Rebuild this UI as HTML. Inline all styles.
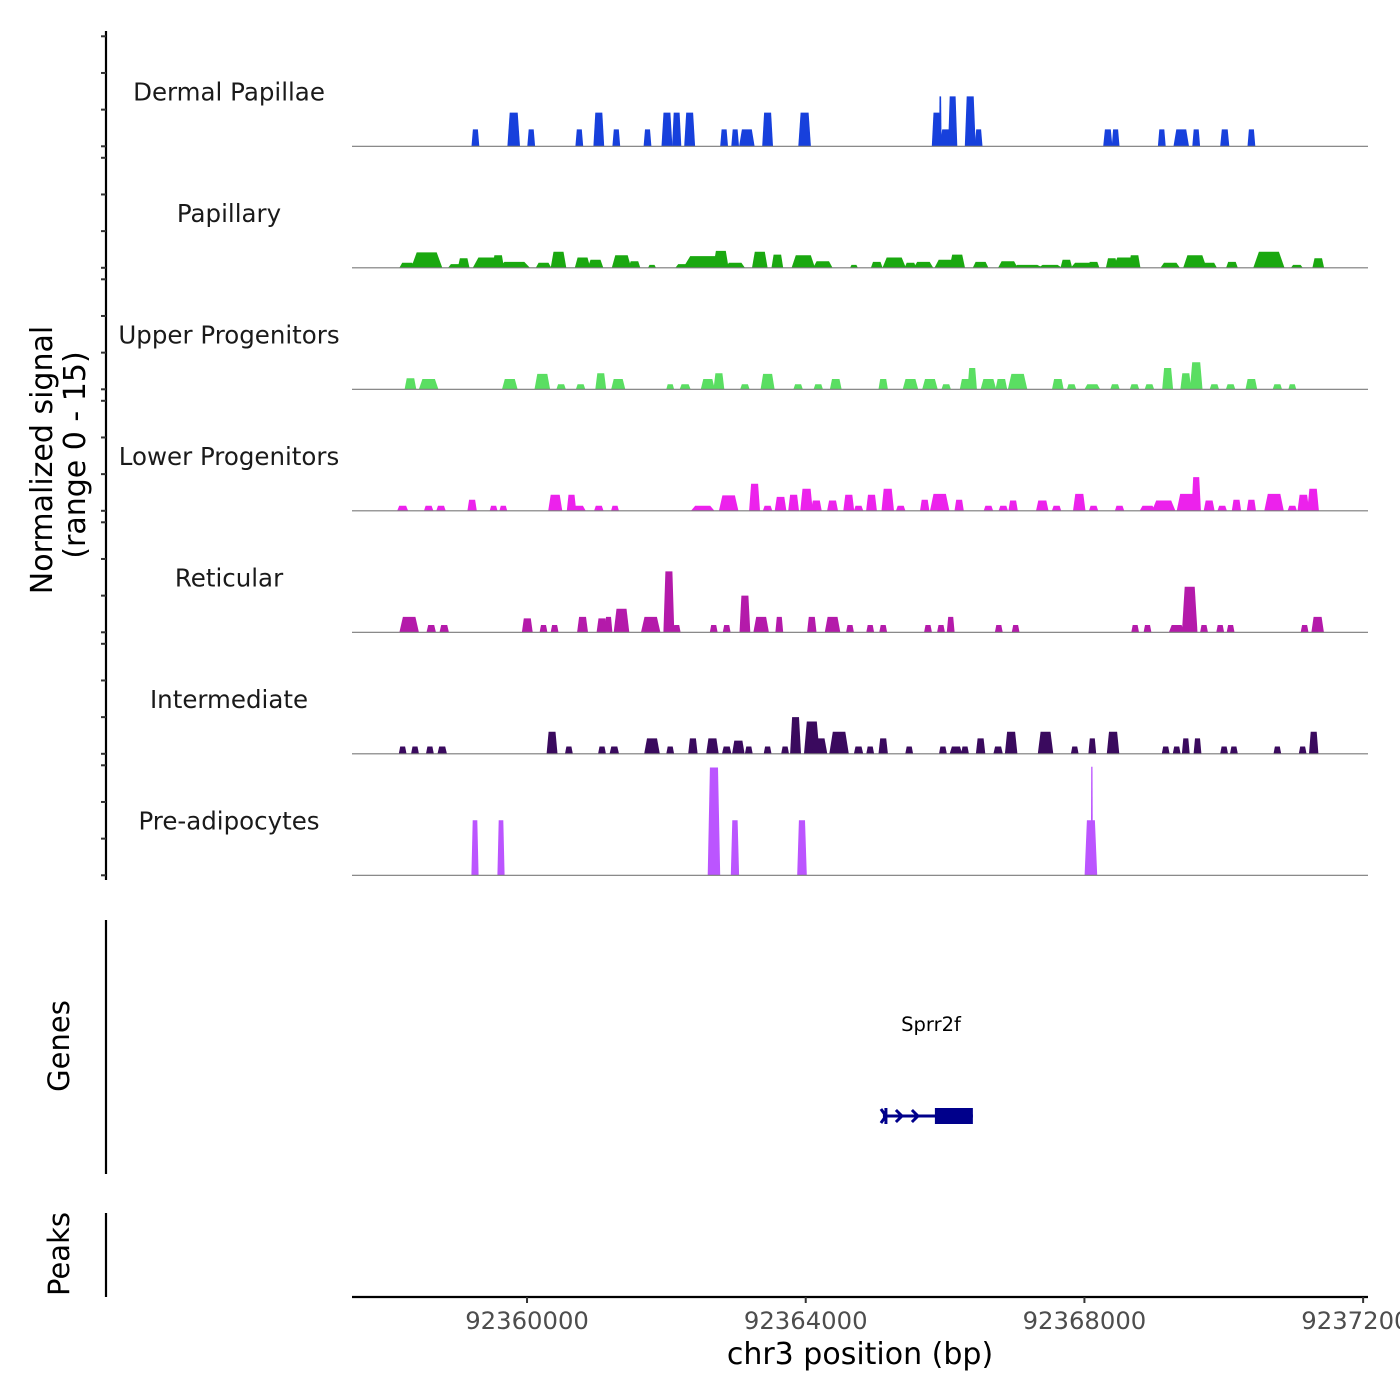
<!DOCTYPE html>
<html><head><meta charset="utf-8">
<style>
html,body{margin:0;padding:0;background:#fff;width:1400px;height:1400px;overflow:hidden}
svg{display:block;font-family:"DejaVu Sans","Liberation Sans",sans-serif}
</style></head>
<body>
<svg id="chart" width="1400" height="1400" viewBox="0 0 1400 1400" xmlns="http://www.w3.org/2000/svg"></svg>
<script>
const trackNames = ["Dermal Papillae","Papillary","Upper Progenitors","Lower Progenitors","Reticular","Intermediate","Pre-adipocytes"];
const trackColors = ["#1740dc","#1aa810","#5ade62","#ec22ec","#b41aaa","#3a0a5e","#bb55ff"];
// peaks: [center bp, width bp, signal]
const dermalPapillae = [[92359259,93,2.3],[92359809,150,4.6],[92360060,93,2.3],[92360750,93,2.3],[92361030,130,4.6],[92361281,93,2.3],[92361729,93,2.3],[92362008,130,4.6],[92362148,110,4.6],[92362334,130,4.6],[92362828,93,2.3],[92362987,93,2.3],[92363155,186,2.3],[92363453,130,4.6],[92363984,150,4.6],[92365876,110,4.6],[92365932,30,6.8],[92366016,150,2.3],[92366109,110,6.8],[92366361,130,6.8],[92366482,93,2.3],[92368336,110,2.3],[92368448,93,2.3],[92369110,93,2.3],[92369390,186,2.3],[92369604,93,2.3],[92370014,110,2.3],[92370396,93,2.3]];
const papillary = [[92358280,186,0.7],[92358560,373,2.1],[92358979,186,0.5],[92359091,140,1.3],[92359445,373,1.4],[92359585,140,1.7],[92359818,373,0.8],[92360237,186,0.7],[92360452,186,2.2],[92360797,186,1.4],[92360983,186,1.1],[92361356,233,1.7],[92361542,140,0.9],[92361794,93,0.4],[92362241,186,0.5],[92362521,466,1.6],[92362782,186,2.3],[92362987,233,0.7],[92363341,186,2.2],[92363593,140,1.8],[92363965,280,1.7],[92364245,233,0.9],[92364692,93,0.4],[92365019,140,0.8],[92365270,280,1.4],[92365503,140,0.7],[92365690,233,0.8],[92366016,280,1.1],[92366174,186,1.8],[92366510,186,0.8],[92366901,233,0.9],[92367181,373,0.4],[92367507,280,0.4],[92367740,140,1.1],[92367973,280,0.7],[92368131,140,0.8],[92368392,140,1.3],[92368579,280,1.4],[92368719,140,1.7],[92369231,233,0.7],[92369585,280,1.7],[92369790,186,0.7],[92370117,140,0.8],[92370648,373,2.2],[92371049,140,0.4],[92371356,140,1.3]];
const upperProgenitors = [[92358327,140,1.5],[92358588,233,1.4],[92359753,186,1.4],[92360219,186,2.1],[92360489,112,0.7],[92360769,112,0.7],[92361058,130,2.2],[92361309,168,1.4],[92362055,93,0.7],[92362269,130,0.7],[92362595,168,1.4],[92362754,130,2.2],[92363127,112,0.7],[92363453,168,2.1],[92363891,112,0.7],[92364180,112,0.7],[92364431,140,1.4],[92365112,112,1.4],[92365503,186,1.4],[92365783,186,1.4],[92366016,112,0.7],[92366295,140,1.4],[92366389,112,2.9],[92366622,186,1.4],[92366808,140,1.4],[92367041,233,2.1],[92367619,140,1.4],[92367815,112,0.7],[92368113,186,0.7],[92368439,112,0.7],[92368719,112,0.7],[92368933,112,0.7],[92369194,130,2.9],[92369455,130,2.2],[92369604,150,3.7],[92369865,112,0.7],[92370098,112,0.7],[92370396,140,1.4],[92370769,112,0.7],[92370983,93,0.7]];
const lowerProgenitors = [[92358215,130,0.7],[92358588,112,0.7],[92358765,112,0.7],[92359212,112,1.5],[92359520,93,0.7],[92359660,93,0.7],[92360405,168,2.2],[92360638,112,2.2],[92360731,186,0.7],[92361030,112,0.7],[92361263,93,0.7],[92362521,280,0.7],[92362894,233,2.1],[92363266,130,3.7],[92363453,112,0.7],[92363639,140,1.9],[92363826,130,2.2],[92364012,150,3.0],[92364152,130,1.4],[92364385,130,1.4],[92364618,130,2.2],[92364758,112,0.7],[92364944,130,2.2],[92365177,150,3.0],[92365363,112,0.7],[92365708,112,1.5],[92365923,233,2.3],[92366202,112,1.5],[92366622,112,0.7],[92366836,112,0.7],[92366976,112,1.4],[92367395,150,1.4],[92367600,112,0.7],[92367926,150,2.3],[92368131,112,0.7],[92368504,112,0.7],[92368905,186,0.7],[92369138,280,1.4],[92369464,233,2.3],[92369604,112,4.6],[92369790,130,1.4],[92369977,112,0.7],[92370182,112,1.5],[92370396,112,1.5],[92370722,233,2.3],[92370983,112,0.7],[92371142,140,2.2],[92371282,140,3.0]];
const reticular = [[92358308,233,2.1],[92358625,112,1.0],[92358811,112,1.0],[92360004,130,1.9],[92360237,93,1.0],[92360396,93,1.0],[92360797,130,2.1],[92361076,130,1.9],[92361169,93,2.1],[92361356,186,3.2],[92361775,233,2.1],[92362036,130,8.3],[92362148,93,1.0],[92362679,93,1.0],[92362866,93,1.0],[92363127,130,5.0],[92363360,186,2.1],[92363621,93,2.1],[92364087,112,2.1],[92364385,186,2.1],[92364636,93,1.0],[92364925,93,1.0],[92365112,93,1.0],[92365755,93,1.0],[92365941,93,1.0],[92366081,93,2.1],[92366771,93,1.0],[92367013,93,1.0],[92368728,93,1.0],[92368905,93,1.0],[92369324,186,1.0],[92369511,186,6.2],[92369716,93,1.0],[92369949,93,1.0],[92370098,93,1.0],[92371160,93,1.0],[92371347,150,2.1]];
const intermediate = [[92358215,93,1.0],[92358392,93,1.0],[92358606,93,1.0],[92358783,112,1.0],[92360359,130,3.0],[92360601,93,1.0],[92361076,93,1.0],[92361253,112,1.0],[92361794,186,2.1],[92362055,93,1.0],[92362381,112,2.1],[92362661,150,2.1],[92362866,112,1.0],[92363033,150,1.8],[92363183,93,1.0],[92363453,93,1.0],[92363704,93,1.0],[92363854,130,5.0],[92364087,186,4.4],[92364198,186,2.1],[92364478,233,3.0],[92364758,112,1.0],[92364925,93,1.0],[92365112,112,2.1],[92365485,93,1.0],[92365969,93,1.0],[92366156,150,1.0],[92366286,93,1.0],[92366510,112,2.1],[92366761,112,1.0],[92366948,150,3.0],[92367442,186,3.0],[92367861,93,1.0],[92368113,93,2.1],[92368411,150,3.0],[92369166,93,1.0],[92369324,93,1.0],[92369455,93,2.1],[92369623,93,2.1],[92370005,93,1.0],[92370145,93,1.0],[92370769,93,1.0],[92371132,93,1.0],[92371291,112,3.0]];
const preAdipocytes = [[92359253,86,7.5],[92359626,86,7.5],[92362683,150,14.7],[92362984,100,7.5],[92363946,115,7.5],[92368093,150,7.5],[92368107,25,14.8]];
const trackData = [dermalPapillae,papillary,upperProgenitors,lowerProgenitors,reticular,intermediate,preAdipocytes];
const xTicks = [92360000,92364000,92368000,92372000];
const xTickLabels = ["92360000","92364000","92368000","92372000"];
const yTicks = [0,5,10,15];
const geneName = "Sprr2f";
const geneStart = 92365108, geneEnd = 92366399, exonStart = 92365854;

const NS="http://www.w3.org/2000/svg";
const svg=document.getElementById('chart');
function mk(tag,attrs,parent){const e=document.createElementNS(NS,tag);for(const k in attrs)e.setAttribute(k,attrs[k]);(parent||svg).appendChild(e);return e;}
const X0=352,X1=1368,BP0=92357488,BPPX=4000/278.7;
function xs(bp){return X0+(bp-BP0)/BPPX;}
const base0=146.3,trackGap=121.5,unitPx=110/15;
function ys(t,v){return base0+t*trackGap-v*unitPx;}

const ax=mk('line',{x1:106,y1:31,x2:106,y2:880,stroke:'#000','stroke-width':2.2});


for(let t=0;t<7;t++){
  for(const v of yTicks){
    const tk=mk('line',{x1:101,x2:106,y1:ys(t,v),y2:ys(t,v),stroke:'#333','stroke-width':2});
    
    
  }
}
for(let t=0;t<7;t++){
  const g=mk('g',{});
  
  
  const b=ys(t,0);
  const lab=mk('text',{x:229,y:b-46,'text-anchor':'middle','font-size':24.5,fill:'#1a1a1a'},g);
  lab.textContent=trackNames[t];
  
  
  for(const p of trackData[t]){
    const c=p[0],w=p[1]*1.2,h=p[2];
    const pts=[[xs(c-w/2),b],[xs(c-w*0.32),ys(t,h)],[xs(c+w*0.32),ys(t,h)],[xs(c+w/2),b]].map(q=>q[0].toFixed(1)+','+q[1].toFixed(1)).join(' ');
    const pk=mk('polygon',{points:pts,fill:trackColors[t]},g);
    
    
  }
  const bl=mk('line',{x1:X0,x2:X1,y1:b,y2:b,stroke:'#7a7a7a','stroke-width':1.2},g);
  
  
}
const gax=mk('line',{x1:106,y1:920,x2:106,y2:1174,stroke:'#000','stroke-width':2.2});


const gl=mk('text',{x:0,y:0,transform:'translate(69,1046) rotate(-90)','text-anchor':'middle','font-size':29,fill:'#000'});
gl.textContent='Genes';


const gg=mk('g',{});


const gt=mk('text',{x:931,y:1031,'text-anchor':'middle','font-size':19.5,fill:'#000'},gg);
gt.textContent=geneName;
mk('line',{x1:xs(geneStart),x2:xs(geneEnd),y1:1116,y2:1116,stroke:'#00008b','stroke-width':3},gg);
mk('rect',{x:xs(exonStart),y:1108,width:xs(geneEnd)-xs(exonStart),height:16,fill:'#00008b'},gg);
const gs=xs(geneStart);
mk('path',{d:`M${gs-2},1109 L${gs+3},1116 L${gs-2},1123 M${gs+3},1108 L${gs+3},1124 M${gs+13},1110 L${gs+19},1116 L${gs+13},1122 M${gs+29},1110 L${gs+35},1116 L${gs+29},1122`,stroke:'#00008b','stroke-width':3,fill:'none'},gg);
const pax=mk('line',{x1:106,y1:1213,x2:106,y2:1297,stroke:'#000','stroke-width':2.2});


const pl=mk('text',{x:0,y:0,transform:'translate(69,1254) rotate(-90)','text-anchor':'middle','font-size':29,fill:'#000'});
pl.textContent='Peaks';


const yt=mk('text',{x:0,y:0,transform:'translate(52,460) rotate(-90)','text-anchor':'middle','font-size':30,fill:'#000'});
yt.textContent='Normalized signal';


const yt2=mk('text',{x:0,y:0,transform:'translate(85,455) rotate(-90)','text-anchor':'middle','font-size':30,fill:'#000'});
yt2.textContent='(range 0 - 15)';


const xa=mk('line',{x1:X0,x2:X1,y1:1297,y2:1297,stroke:'#000','stroke-width':2.2});


xTicks.forEach((v,i)=>{
  const tk=mk('line',{x1:xs(v),x2:xs(v),y1:1297,y2:1303,stroke:'#333','stroke-width':2});
  
  
  const tl=mk('text',{x:xs(v),y:1329,'text-anchor':'middle','font-size':24.3,fill:'#4d4d4d'});
  tl.textContent=xTickLabels[i];
  
  
});
const xt=mk('text',{x:860,y:1364,'text-anchor':'middle','font-size':30,fill:'#000'});
xt.textContent='chr3 position (bp)';


</script>
</body></html>
